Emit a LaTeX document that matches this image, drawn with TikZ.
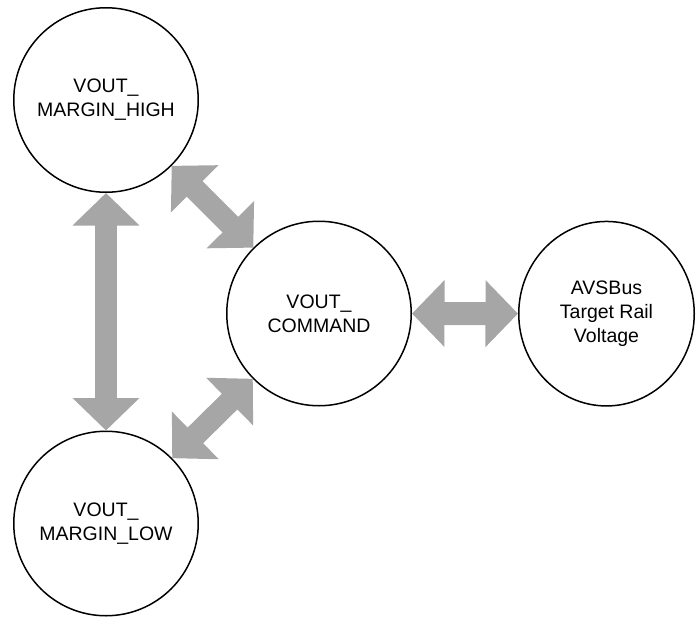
\documentclass[tikz,border=0pt]{standalone}
\usepackage{fontspec}
\setmainfont{Liberation Sans}
\usetikzlibrary{arrows.meta,shapes.geometric}
\definecolor{flowgray}{RGB}{166,166,166}
\begin{document}
\begin{tikzpicture}[x=1pt,y=-1pt,
  regnode/.style={draw=black, line width=1.5pt, fill=white, circle,
    minimum size=184.5pt, inner sep=0pt, align=center,
    font=\fontsize{19.5}{24}\selectfont},
  flow/.style={draw=flowgray, line width=22pt,
    arrows={Triangle[length=32.5pt,width=65pt]-Triangle[length=32.5pt,width=65pt]}}]
  \useasboundingbox (0,0) rectangle (696,618);
  \node[regnode] (high) at (106,100) {VOUT\_\\MARGIN\_HIGH};
  \node[regnode] (low)  at (106,523.5) {VOUT\_\\MARGIN\_LOW};
  \node[regnode] (cmd)  at (319,313.5) {VOUT\_\\COMMAND};
  \node[regnode, ellipse, minimum width=175.5pt, minimum height=184.5pt]
    (avs) at (606.5,313.7) {AVSBus\\Target Rail\\Voltage};
  \draw[flow] (high) -- (low);
  \draw[flow] (high) -- (cmd);
  \draw[flow] (low) -- (cmd);
  \draw[flow, line width=23pt] (cmd) -- (avs);
\end{tikzpicture}
\end{document}
